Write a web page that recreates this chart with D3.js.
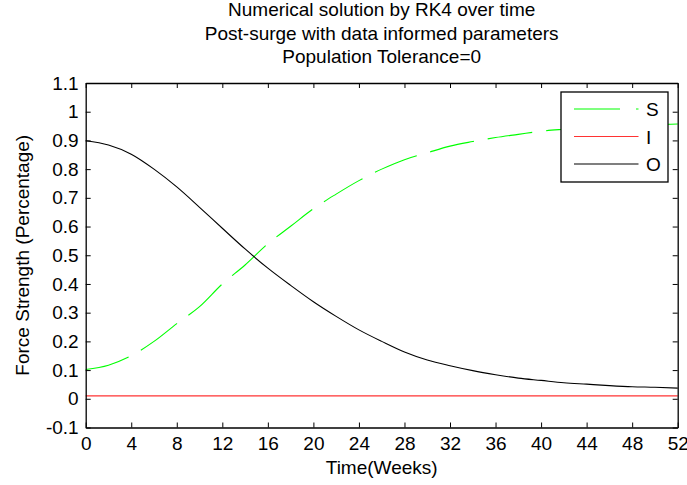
<!DOCTYPE html>
<html>
	<head>
		<meta charset="utf-8">
		<script src="https://d3js.org/d3.v7.min.js"></script>
		<style>
			body { margin: 0; background: #fff; }
			text { font-family: "Liberation Sans", Arial, sans-serif; fill: #000; }
		</style>
	</head>
	<body>
		<script>
			// values, every 2 weeks
			var weeks = [0,2,4,6,8,10,12,14,16,18,20,22,24,26,28,30,32,34,36,38,40,42,44,46,48,50,52];
			var S = [0.102,0.117,0.150,0.200,0.262,0.321,0.400,0.466,0.540,0.601,0.662,0.713,0.760,0.800,0.833,0.857,0.880,0.896,0.910,0.921,0.932,0.939,0.945,0.949,0.952,0.955,0.957];
			var I = [0.01,0.01,0.01,0.01,0.01,0.01,0.01,0.01,0.01,0.01,0.01,0.01,0.01,0.01,0.01,0.01,0.01,0.01,0.01,0.01,0.01,0.01,0.01,0.01,0.01,0.01,0.01];
			var O = [0.899,0.884,0.852,0.800,0.738,0.667,0.594,0.522,0.455,0.395,0.338,0.287,0.240,0.200,0.163,0.135,0.115,0.098,0.084,0.072,0.064,0.056,0.051,0.046,0.042,0.040,0.037];

			var xTicks = [0,4,8,12,16,20,24,28,32,36,40,44,48,52];
			var yTicks = [-0.1,0,0.1,0.2,0.3,0.4,0.5,0.6,0.7,0.8,0.9,1,1.1];
			var titleLines = ["Numerical solution by RK4 over time", "Post-surge with data informed parameters", "Population Tolerance=0"];
			var seriesNames = ["S","I","O"];
			var seriesColors = ["#00ff00","#ff3333","#000000"];
			var seriesDash = ["45,14", null, null];

			var width = 687, height = 485;
			var pLeft = 85.7, pRight = 677.7, pTop = 83, pBottom = 427.5;
			var fs = 19;

			var svg = d3.select('body').append('svg')
				.attr('width', width)
				.attr('height', height);

			var x = d3.scaleLinear().domain([0,52]).range([pLeft,pRight]);
			var y = d3.scaleLinear().domain([-0.1,1.1]).range([pBottom,pTop]);

			// lines
			var series = [S, I, O];
			var line = d3.line()
				.x(function (d) { return x(d[0]); })
				.y(function (d) { return y(d[1]); })
				.curve(d3.curveMonotoneX);

			series.forEach(function (vals, k) {
				var pts = weeks.map(function (w, i) { return [w, vals[i]]; });
				var p = svg.append('path')
					.datum(pts)
					.attr('d', line)
					.attr('fill', 'none')
					.attr('stroke', seriesColors[k])
					.attr('stroke-width', 1.1);
				if (seriesDash[k]) p.attr('stroke-dasharray', seriesDash[k]);
			});

			// axes, ticks inward on all sides
			function fmt(d) { return String(Math.round(d*10)/10); }
			svg.append('g').attr('transform','translate(0,'+pBottom+')')
				.call(d3.axisBottom(x).tickValues(xTicks).tickSizeInner(-5).tickSizeOuter(0).tickPadding(9).tickFormat(d3.format('d')));
			svg.append('g').attr('transform','translate(0,'+pTop+')')
				.call(d3.axisTop(x).tickValues(xTicks).tickSizeInner(-5).tickSizeOuter(0).tickFormat(''));
			svg.append('g').attr('transform','translate('+pLeft+',0)')
				.call(d3.axisLeft(y).tickValues(yTicks).tickSizeInner(-5).tickSizeOuter(0).tickPadding(7).tickFormat(fmt));
			svg.append('g').attr('transform','translate('+pRight+',0)')
				.call(d3.axisRight(y).tickValues(yTicks).tickSizeInner(-5).tickSizeOuter(0).tickFormat(''));

			svg.selectAll('.domain').attr('stroke','#000').attr('stroke-width',1.3);
			svg.selectAll('.tick line').attr('stroke','#000');
			svg.selectAll('.tick text').attr('font-size',fs).attr('font-family','"Liberation Sans", Arial, sans-serif').attr('fill','#000');

			// legend
			var lg = svg.append('g');
			lg.append('rect')
				.attr('x',561).attr('y',92).attr('width',107).attr('height',90)
				.attr('fill','#fff').attr('stroke','#000').attr('stroke-width',1.3);
			seriesNames.forEach(function (name, k) {
				var ly = 109 + k*27.5;
				var l = lg.append('line')
					.attr('x1',574).attr('x2',638.5).attr('y1',ly).attr('y2',ly)
					.attr('stroke',seriesColors[k]).attr('stroke-width',1.1);
				if (seriesDash[k]) l.attr('stroke-dasharray','46,16');
				lg.append('text').attr('x',646).attr('y',ly+7).attr('font-size',fs).text(name);
			});

			// titles
			svg.selectAll('.title').data(titleLines).enter().append('text')
				.attr('class','title')
				.attr('x',(pLeft+pRight)/2)
				.attr('y',function (d, i) { return 16 + i*23.5; })
				.attr('text-anchor','middle')
				.attr('font-size',fs)
				.text(function (d) { return d; });

			svg.append('text')
				.attr('x',(pLeft+pRight)/2).attr('y',474)
				.attr('text-anchor','middle').attr('font-size',fs)
				.text('Time(Weeks)');

			svg.append('text')
				.attr('transform','translate(29,'+((pTop+pBottom)/2)+') rotate(-90)')
				.attr('text-anchor','middle').attr('font-size',fs)
				.text('Force Strength (Percentage)');
		</script>
	</body>
</html>
